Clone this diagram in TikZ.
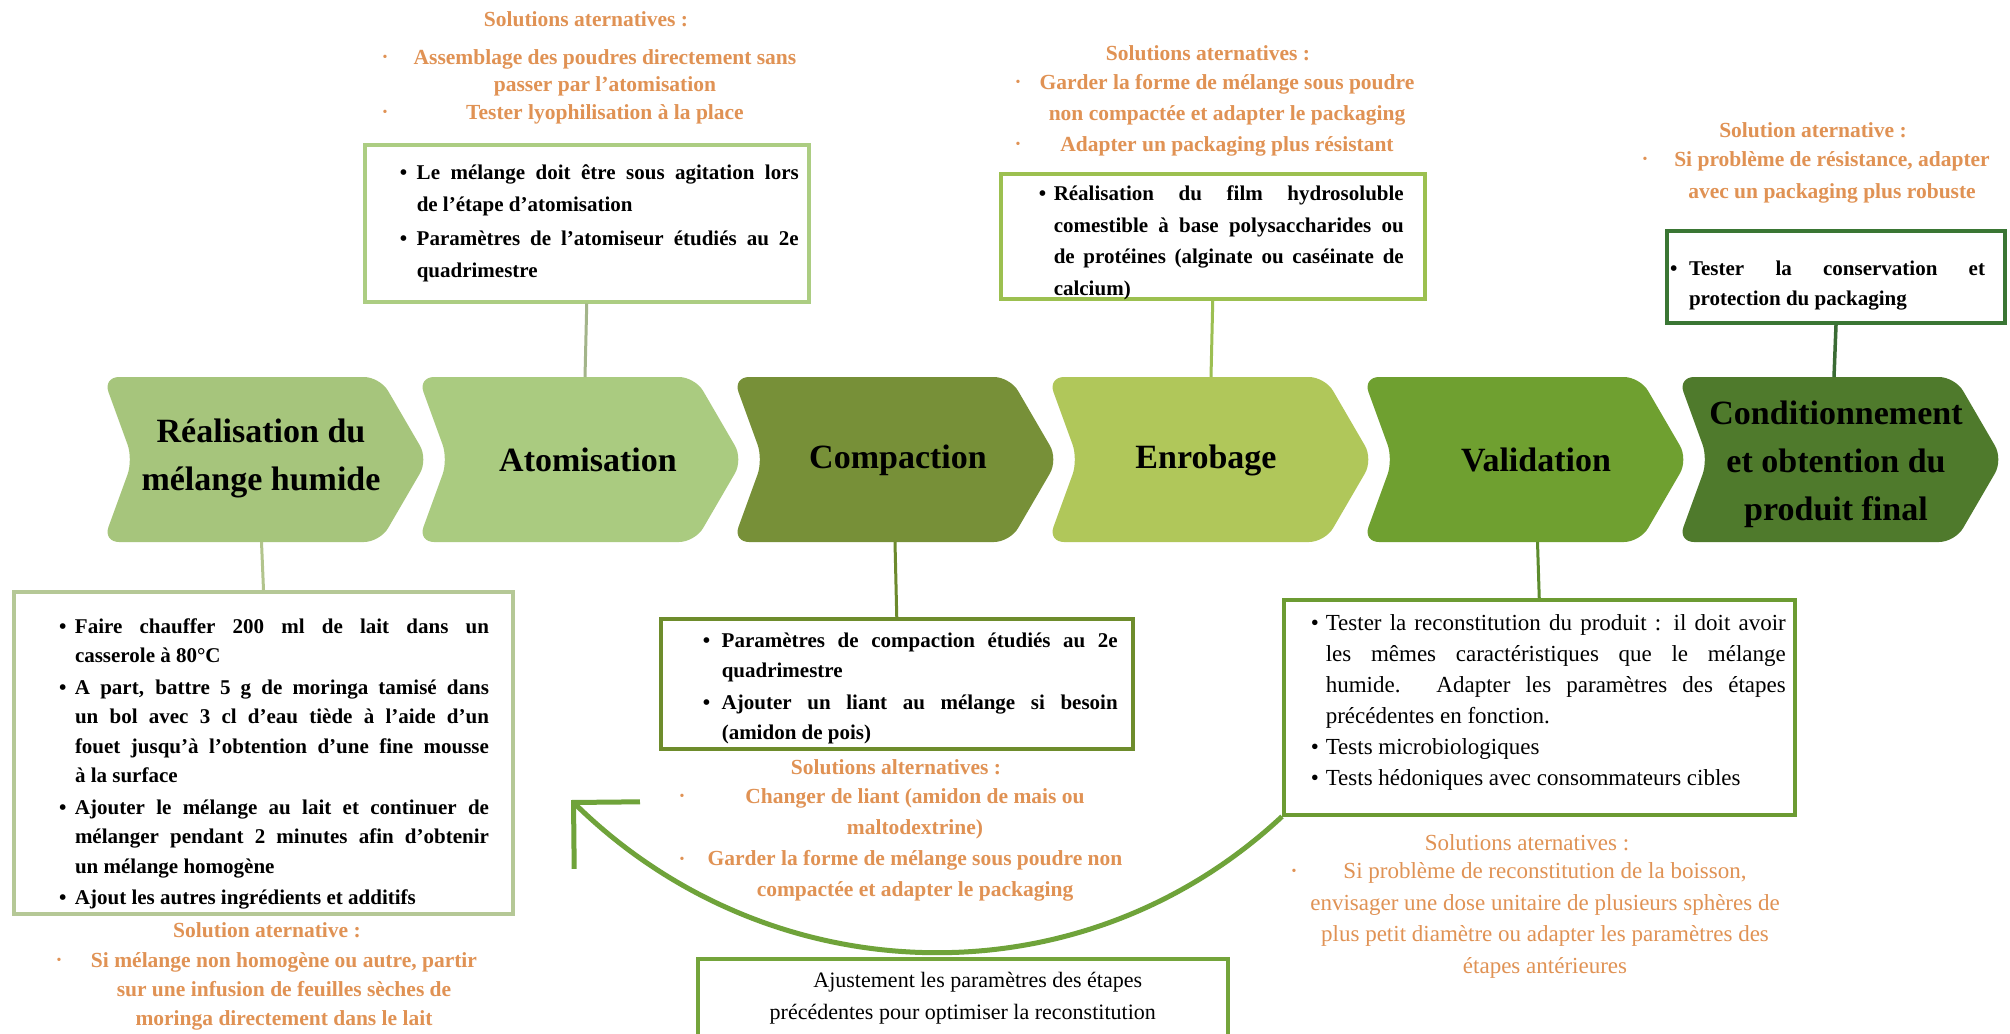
\documentclass[tikz,border=0pt]{standalone}
\usepackage{fontspec}
\setmainfont{Liberation Serif}
\usetikzlibrary{arrows.meta}
\definecolor{orangetxt}{RGB}{224,146,84}
\definecolor{chA}{RGB}{166,197,124}
\definecolor{chB}{RGB}{170,203,128}
\definecolor{chC}{RGB}{119,144,56}
\definecolor{chD}{RGB}{176,199,90}
\definecolor{chE}{RGB}{111,160,48}
\definecolor{chF}{RGB}{79,122,44}
\definecolor{bxmix}{RGB}{181,200,150}
\definecolor{bxatom}{RGB}{172,205,130}
\definecolor{bxenrob}{RGB}{156,192,80}
\definecolor{bxcomp}{RGB}{110,140,44}
\definecolor{bxval}{RGB}{108,155,50}
\definecolor{bxcond}{RGB}{58,118,52}
\definecolor{bxadj}{RGB}{116,164,59}
\definecolor{arrowgreen}{RGB}{111,163,58}
\definecolor{cmix}{RGB}{178,196,140}
\definecolor{catom}{RGB}{163,181,138}
\definecolor{cenrob}{RGB}{156,191,82}
\definecolor{ccomp}{RGB}{108,138,45}
\definecolor{cval}{RGB}{93,140,46}
\definecolor{ccond}{RGB}{58,107,52}

% box body: width, height, top offset, left skip, right skip, content
\newcommand\boxbody[6]{\vbox to #2bp{\hsize=#1bp\parindent=0pt\leftskip=#4bp\rightskip=#5bp\parfillskip=0pt plus 1fil\tolerance=10000\hbadness=10000\vbadness=10000\hyphenpenalty=10000\exhyphenpenalty=10000\vskip#3bp\relax#6\par\vfill}}
% bullet item with hanging indent
\newcommand\bitem[2]{\par\hangindent=#1bp\hangafter=1\noindent\strut\makebox[#1bp][l]{\textbullet}#2\par}
\newcommand\chevron[2]{\fill[#2, rounded corners=16bp] (#1,377) -- ++(277,0) -- ++(48,82.5) -- ++(-48,82.5) -- ++(-277,0) -- ++(30,-82.5) -- cycle;}

\tikzset{
  stepbox/.style={draw, fill=white, line width=3.5bp, inner sep=0pt, anchor=north west, font=\bfseries},
  alttitle/.style={text=orangetxt, inner sep=0pt, font=\bfseries\fontsize{21.5bp}{31bp}\selectfont},
  altbody/.style={alttitle, align=center},
  altbullet/.style={text=orangetxt, inner sep=0pt, font=\fontsize{14bp}{14bp}\selectfont},
  chevtext/.style={align=center, inner sep=0pt, font=\bfseries\fontsize{34bp}{48bp}\selectfont},
  connector/.style={line width=3bp},
  loopback/.style={draw=arrowgreen, line width=5bp, -{Straight Barb[length=47bp,width=94bp]}},
}

\begin{document}
\begin{tikzpicture}[x=1bp, y=-1bp]
\useasboundingbox (0,0) rectangle (2010,1033);
\clip (0,0) rectangle (2010,1033);
\fill[white] (0,0) rectangle (2010,1033);

% chevrons
\chevron{103}{chA}
\chevron{418}{chB}
\chevron{733}{chC}
\chevron{1048}{chD}
\chevron{1363}{chE}
\chevron{1678}{chF}

\node[chevtext] (t1) at (261,458) {Réalisation du\\mélange humide};
\node[chevtext] (t2) at (588,460) {Atomisation};
\node[chevtext] (t3) at (898,460) {Compaction};
\node[chevtext] (t4) at (1206,460) {Enrobage};
\node[chevtext] (t5) at (1536,460) {Validation};
\node[chevtext] (t6) at (1836,464) {Conditionnement\\et obtention du\\produit final};

\coordinate (ch1bot) at (261.5,542);
\coordinate (ch2top) at (585,377);
\coordinate (ch3bot) at (895,542);
\coordinate (ch4top) at (1211,377);
\coordinate (ch5bot) at (1537.5,542);
\coordinate (ch6top) at (1834,377);
\coordinate (arrowtip) at (571,800);

% ---------- top: atomisation ----------
\node[alttitle] (atomalttitle) at (586,19) {Solutions aternatives :};
\node[altbody, font=\bfseries\fontsize{21.5bp}{27.5bp}\selectfont] (atomalt) at (605,86.5) {Assemblage des poudres directement sans\\passer par l’atomisation\\Tester lyophilisation à la place};
\node[altbullet] (atomb1) at (385,58) {\textbullet};
\node[altbullet] (atomb2) at (385,113) {\textbullet};

\node[stepbox, draw=bxatom] (atombox) at (363,143) {\boxbody{444}{157}{10.6}{35}{10}{\fontsize{21bp}{32bp}\selectfont\parskip=2bp
\bitem{17}{Le mélange doit être sous agitation lors\linebreak de l’étape d’atomisation}
\bitem{17}{Paramètres de l’atomiseur étudiés au 2e\linebreak quadrimestre}}};

% ---------- top: enrobage ----------
\node[alttitle] (enralttitle) at (1208,53) {Solutions aternatives :};
\node[altbody] (enralt) at (1227,115) {Garder la forme de mélange sous poudre\\non compactée et adapter le packaging\\Adapter un packaging plus résistant};
\node[altbullet] (enrb1) at (1018,83) {\textbullet};
\node[altbullet] (enrb2) at (1018,145) {\textbullet};

\node[stepbox, draw=bxenrob] (enrobbox) at (999,172) {\boxbody{424}{125}{4.95}{38}{21}{\fontsize{21bp}{31.5bp}\selectfont
\bitem{15}{Réalisation du film hydrosoluble\linebreak comestible à base polysaccharides ou\linebreak de protéines (alginate ou caséinate de\linebreak calcium)}}};

% ---------- top: conditionnement ----------
\node[alttitle] (condalttitle) at (1813,130) {Solution aternative :};
\node[altbody, font=\bfseries\fontsize{21.5bp}{32bp}\selectfont] (condalt) at (1832,177) {Si problème de résistance, adapter\\avec un packaging plus robuste};
\node[altbullet] (condb1) at (1645,160) {\textbullet};

\node[stepbox, draw=bxcond, line width=4bp] (condbox) at (1665,229) {\boxbody{338}{92}{23}{3}{20}{\fontsize{21bp}{30bp}\selectfont
\bitem{19}{Tester la conservation et\linebreak protection du packaging}}};

% ---------- bottom: mélange humide ----------
\node[stepbox, draw=bxmix, line width=4bp] (mixbox) at (12,590) {\boxbody{499}{322}{18.35}{45}{24}{\fontsize{21bp}{29.5bp}\selectfont\parskip=2bp
\bitem{16}{Faire chauffer 200 ml de lait dans un\linebreak casserole à 80°C}
\bitem{16}{A part, battre 5 g de moringa tamisé dans\linebreak un bol avec 3 cl d’eau tiède à l’aide d’un\linebreak fouet jusqu’à l’obtention d’une fine mousse\linebreak à la surface}
\bitem{16}{Ajouter le mélange au lait et continuer de\linebreak mélanger pendant 2 minutes afin d’obtenir\linebreak un mélange homogène}
\bitem{16}{Ajout les autres ingrédients et additifs}}};

\node[alttitle] (mixalttitle) at (267,930) {Solution aternative :};
\node[altbody, font=\bfseries\fontsize{21.5bp}{29bp}\selectfont] (mixalt) at (284,991) {Si mélange non homogène ou autre, partir\\sur une infusion de feuilles sèches de\\moringa directement dans le lait};
\node[altbullet] (mixb1) at (59,961) {\textbullet};

% ---------- bottom: compaction ----------
\node[stepbox, draw=bxcomp] (compbox) at (659,617) {\boxbody{472}{130}{6}{42}{15}{\fontsize{21bp}{30bp}\selectfont\parskip=2bp
\bitem{19}{Paramètres de compaction étudiés au 2e\linebreak quadrimestre}
\bitem{19}{Ajouter un liant au mélange si besoin\linebreak (amidon de pois)}}};

\node[alttitle] (compalttitle) at (896,767) {Solutions alternatives :};
\node[altbody] (compalt) at (915,844.5) {Changer de liant (amidon de mais ou\\maltodextrine)\\Garder la forme de mélange sous poudre non\\compactée et adapter le packaging};
\node[altbullet] (compb1) at (682,797) {\textbullet};
\node[altbullet] (compb2) at (682,860) {\textbullet};

% ---------- bottom: validation ----------
\node[stepbox, draw=bxval] (valbox) at (1282,598) {\boxbody{511}{215}{9.3}{27}{9}{\mdseries\fontsize{23bp}{31bp}\selectfont
\bitem{15}{Tester la reconstitution du produit : il doit avoir\linebreak les mêmes caractéristiques que le mélange\linebreak humide. Adapter les paramètres des étapes\linebreak précédentes en fonction.}
\bitem{15}{Tests microbiologiques}
\bitem{15}{Tests hédoniques avec consommateurs cibles}}};

\node[alttitle, font=\fontsize{23bp}{31.5bp}\selectfont] (valalttitle) at (1527,843) {Solutions aternatives :};
\node[altbody, font=\fontsize{23bp}{31.5bp}\selectfont] (valalt) at (1545,920.5) {Si problème de reconstitution de la boisson,\\envisager une dose unitaire de plusieurs sphères de\\plus petit diamètre ou adapter les paramètres des\\étapes antérieures};
\node[altbullet] (valb1) at (1294,872) {\textbullet};

% ---------- bottom: ajustement ----------
\node[stepbox, draw=bxadj] (adjbox) at (696,957) {\boxbody{530}{110}{6.6}{0}{0}{\mdseries\fontsize{22bp}{32bp}\selectfont\leftskip=0pt plus 1fil\rightskip=0pt plus 1fil\parfillskip=0pt
\noindent\hspace*{30bp}\strut Ajustement les paramètres des étapes\break précédentes pour optimiser la reconstitution}};

% ---------- connectors ----------
\draw[connector, draw=catom] (atombox.south) -- (ch2top);
\draw[connector, draw=cenrob] (enrobbox.south) -- (ch4top);
\draw[connector, draw=ccond, line width=3.5bp] (condbox.south) -- (ch6top);
\draw[connector, draw=cmix] (ch1bot) -- (mixbox.north);
\draw[connector, draw=ccomp] (ch3bot) -- (compbox.north);
\draw[connector, draw=cval] (ch5bot) -- (valbox.north);

% loop-back arrow
\draw[loopback] (valbox.south west) .. controls (1080,1005) and (770,995) .. (arrowtip);
\end{tikzpicture}
\end{document}
